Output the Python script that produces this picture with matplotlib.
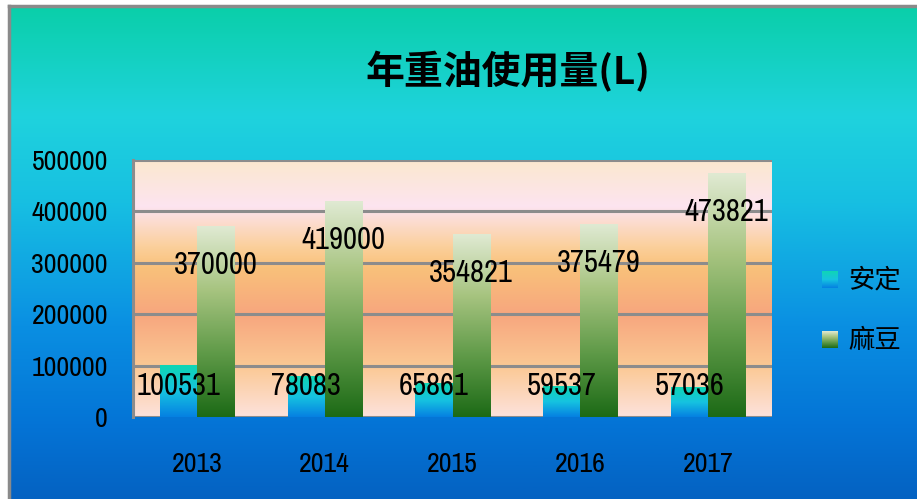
import matplotlib
matplotlib.use("Agg")
from matplotlib import pyplot as plt
from matplotlib import font_manager
from matplotlib.colors import LinearSegmentedColormap
import numpy as np

years = ['2013', '2014', '2015', '2016', '2017']
anding = [100531, 78083, 65861, 59537, 57036]
madou = [370000, 419000, 354821, 375479, 473821]
series_names = ['安定', '麻豆']
title = '年重油使用量(L)'

# the original uses a narrow font for numbers; take one if there is any
names = sorted(set(f.name for f in font_manager.fontManager.ttflist))
narrow = [n for n in names if 'Narrow' in n or 'Condensed' in n]
if narrow:
    num_font = [narrow[0], 'DejaVu Sans']
    lab_size, tick_size = 22, 20
else:
    num_font = ['Liberation Sans', 'DejaVu Sans']
    lab_size, tick_size = 19, 17.5
cjk_font = ['Noto Sans CJK TC', 'DejaVu Sans']

W, H = 917, 499
fig = plt.figure(figsize=(W / 100, H / 100), dpi=100)
fig.patch.set_facecolor('white')

# chart background gradient (whole chart area)
bg = fig.add_axes([9 / W, 0, 1 - 9 / W, 1 - 6 / H])
bg_cmap = LinearSegmentedColormap.from_list('bg', [
    (0.0, '#0acfa9'), (0.22, '#1fd3dd'), (0.40, '#17bfe2'),
    (0.65, '#0a8fe2'), (0.85, '#0474d6'), (1.0, '#0462c2')])
bg.imshow(np.linspace(0, 1, 256).reshape(-1, 1), cmap=bg_cmap, aspect='auto',
          extent=[0, 1, 0, 1])
bg.set_xlim(0, 1)
bg.set_ylim(0, 1)
bg.set_xticks([])
bg.set_yticks([])
for s in ['right', 'bottom']:
    bg.spines[s].set_visible(False)
for s in ['left', 'top']:
    bg.spines[s].set_color('#8a8a8a')
    bg.spines[s].set_linewidth(2.5)

ax = fig.add_axes([133 / W, 1 - 417 / H, (772 - 133) / W, (417 - 160) / H])
ax.set_xlim(-0.5, len(years) - 0.5)
ax.set_ylim(0, 500000)

plot_cmap = LinearSegmentedColormap.from_list('plot', [
    (0.0, '#fbe8cf'), (0.18, '#fde4f0'), (0.34, '#fbcf9a'), (0.42, '#f9c17a'),
    (0.60, '#f7a67e'), (0.80, '#fbc893'), (1.0, '#fde2dc')])
ax.imshow(np.linspace(0, 1, 256).reshape(-1, 1), cmap=plot_cmap, aspect='auto',
          extent=[-0.5, len(years) - 0.5, 0, 500000], zorder=0)

x = np.arange(len(years))
bw = 0.29
bars1 = ax.bar(x - bw / 2, anding, bw, color='none', zorder=2)
bars2 = ax.bar(x + bw / 2, madou, bw, color='none', zorder=2)

cmap1 = LinearSegmentedColormap.from_list('a', ['#0fd6b4', '#16c3e0', '#0580e2'])
cmap2 = LinearSegmentedColormap.from_list('m', ['#e0ead3', '#a7c480', '#5f9a48', '#1c6a16'])
grad = np.linspace(0, 1, 256).reshape(-1, 1)
for bars, cm in [(bars1, cmap1), (bars2, cmap2)]:
    for b in bars:
        x0 = b.get_x()
        ax.imshow(grad, cmap=cm, aspect='auto', zorder=2,
                  extent=[x0, x0 + b.get_width(), 0, b.get_height()])

ax.set_xlim(-0.5, len(years) - 0.5)
ax.set_ylim(0, 500000)

for yv in range(0, 500001, 100000):
    ax.axhline(yv, color='#8c8c8c', lw=2.2, zorder=1)
for s in ['right', 'bottom', 'top']:
    ax.spines[s].set_visible(False)
ax.spines['left'].set_color('#8c8c8c')
ax.spines['left'].set_linewidth(2.2)
ax.spines['left'].set_zorder(1)

# data labels
for i in range(len(years)):
    ax.text(x[i] - bw / 2, 60000, str(anding[i]), ha='center', va='center',
            fontsize=lab_size, family=num_font, zorder=4)
    ax.text(x[i] + bw / 2, madou[i] - 75000, str(madou[i]), ha='center', va='center',
            fontsize=lab_size, family=num_font, zorder=4)

ax.set_yticks(range(0, 500001, 100000))
ax.set_yticklabels([str(v) for v in range(0, 500001, 100000)], family=num_font,
                   fontsize=tick_size)
ax.set_xticks(x)
ax.set_xticklabels(years, family=num_font, fontsize=tick_size)
ax.tick_params(length=0)
ax.tick_params(axis='y', pad=18)
ax.tick_params(axis='x', pad=25)

fig.text(508 / W, 1 - 72 / H, title, ha='center', va='center', fontsize=28,
         fontweight='bold', family=cjk_font)

# legend
legend_items = [(series_names[0], cmap1, 280), (series_names[1], cmap2, 340)]
for name, cm, yc in legend_items:
    lax = fig.add_axes([822 / W, 1 - (yc + 8) / H, 16 / W, 17 / H])
    lax.imshow(grad, cmap=cm, aspect='auto', extent=[0, 1, 0, 1])
    lax.set_axis_off()
    fig.text(848 / W, 1 - yc / H, name, ha='left', va='center', fontsize=19,
             family=cjk_font)

plt.savefig('out.png', dpi=100)
